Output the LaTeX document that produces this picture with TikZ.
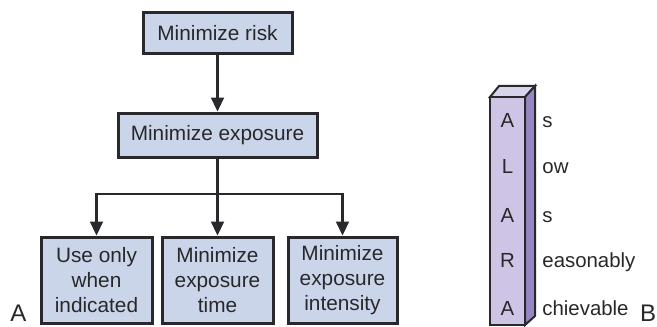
\documentclass[tikz,border=0pt]{standalone}
\usepackage{fontspec}
\setmainfont{Liberation Sans}
\usetikzlibrary{arrows.meta}
\definecolor{boxfill}{RGB}{203,213,234}
\definecolor{boxline}{RGB}{40,40,45}
\definecolor{barfront}{RGB}{206,197,230}
\definecolor{barside}{RGB}{150,136,196}
\definecolor{bartop}{RGB}{218,211,236}
\definecolor{inkgray}{RGB}{40,40,42}

\begin{document}
\begin{tikzpicture}[x=0.5pt, y=-0.5pt,
    stepbox/.style={draw=boxline, line width=1.5pt, fill=boxfill, inner sep=0pt, align=center,
        text=inkgray, font=\fontsize{10.4}{12.5}\selectfont},
    arrow/.style={draw=boxline, line width=1.1pt, -{Triangle[length=7pt,width=6.5pt]}},
    word/.style={text=inkgray, font=\fontsize{10.2}{12}\selectfont, inner sep=0pt}]

        % fixing the frame of the picture
        \useasboundingbox (0,0) rectangle (657,326);

        % part A: the flow chart
        \node[stepbox, minimum width=74.5pt, minimum height=20.5pt] (risk) at (217.5,33.5) {Minimize risk};
        \node[stepbox, minimum width=99.5pt, minimum height=22pt] (exposure) at (217.5,135) {Minimize exposure};

        \node[stepbox, minimum width=55.5pt, minimum height=43pt] (only) at (96.5,280) {Use only\\when\\indicated};
        \node[stepbox, minimum width=55.5pt, minimum height=43pt] (time) at (217.5,280) {Minimize\\exposure\\time};
        \node[stepbox, minimum width=54.5pt, minimum height=43pt] (intensity) at (342.5,280) {Minimize\\exposure\\intensity};

        \draw[arrow] (risk) -- (exposure);
        \coordinate (branch) at (217.5,194);
        \draw[draw=boxline, line width=1.1pt] (exposure) -- (branch);
        \foreach \n in {only, time, intensity}
                \draw[arrow] (branch) -| (\n);

        \node[text=inkgray, font=\fontsize{12}{14}\selectfont, inner sep=0pt, anchor=base] (labelA) at (18.5,321) {A};

        % part B: the ALARA column
        \draw[boxline, line width=1pt, fill=bartop] (490,97) -- (499,86) -- (535,86) -- (525,97) -- cycle;
        \draw[boxline, line width=1pt, fill=barside] (525,97) -- (535,86) -- (535,316) -- (525,325) -- cycle;
        \draw[boxline, line width=1pt, fill=barfront] (490,97) rectangle (525,325);

        \foreach \l/\w/\y in {A/s/127, L/ow/173, A/s/222, R/easonably/267, A/chievable/315}
        {
                \node[word, anchor=base] at (507.5,\y) {\l};
                \node[word, anchor=base west] at (542,\y) {\w};
        }

        \node[text=inkgray, font=\fontsize{12}{14}\selectfont, inner sep=0pt, anchor=base] (labelB) at (648,321) {B};

\end{tikzpicture}
\end{document}
